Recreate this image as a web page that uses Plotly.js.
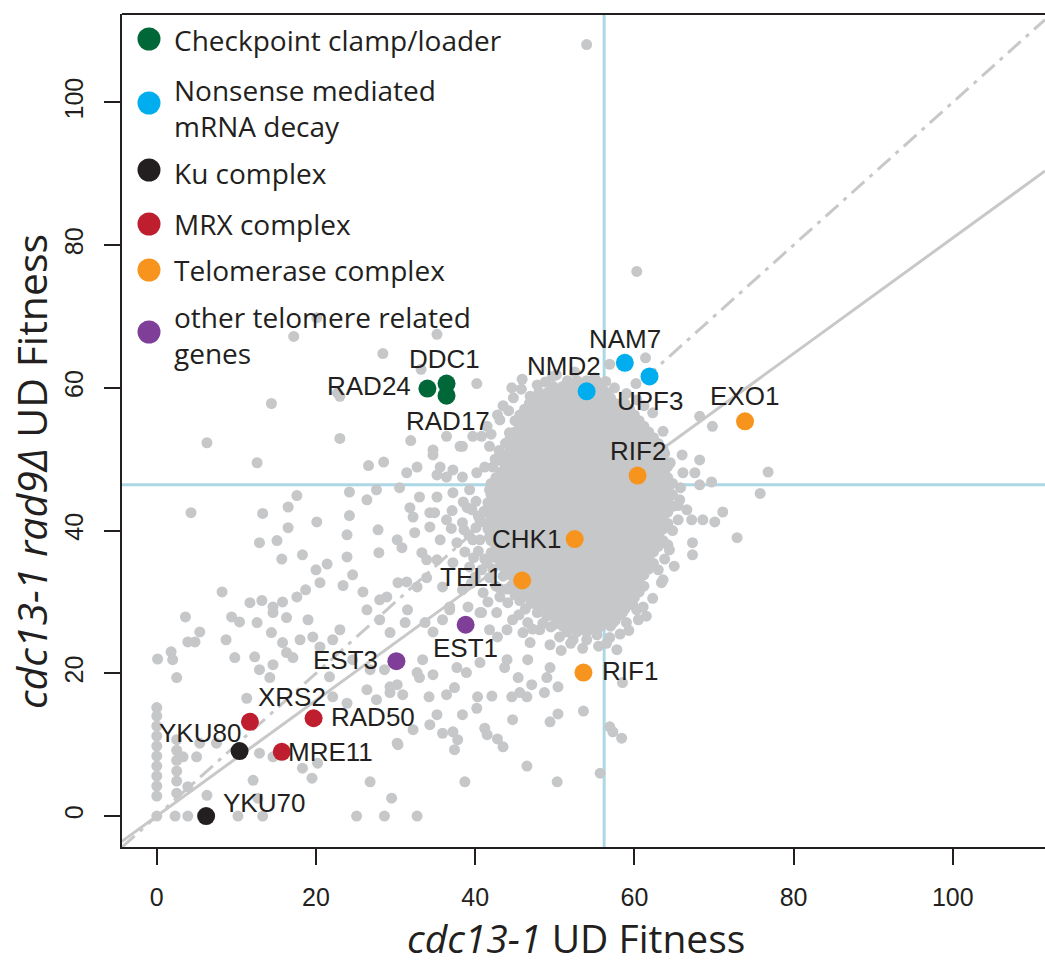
<!DOCTYPE html>
<html><head><meta charset="utf-8">
<script src="https://cdn.plot.ly/plotly-3.0.1.min.js"></script>
<style>html,body{margin:0;padding:0;background:#fff}#chart{width:1045px;height:965px}</style>
</head><body><div id="chart"></div>
<script>
// ---------------- DATA ----------------
const categories = ["Checkpoint clamp/loader", "Nonsense mediated<br>mRNA decay", "Ku complex", "MRX complex", "Telomerase complex", "other telomere related<br>genes"];
const genes      = ["RAD24","DDC1","RAD17","NMD2","NAM7","UPF3","YKU80","YKU70","XRS2","RAD50","MRE11","EXO1","RIF2","CHK1","TEL1","RIF1","EST1","EST3"];
const geneCat    = [0,0,0,1,1,1,2,2,3,3,3,4,4,4,4,4,5,5];
const geneX      = [34.0,36.4,36.4,54.0,58.8,61.9,10.4,6.2,11.7,19.7,15.7,73.9,60.4,52.5,45.9,53.6,38.8,30.1];
const geneY      = [59.9,60.6,58.9,59.5,63.5,61.6,9.1,0.0,13.2,13.7,9.0,55.3,47.7,38.8,33.0,20.1,26.8,21.7];

// all other genes (gray), scattered points
const grayPts = [
 [54.0,108.1],[60.3,76.3],[17.2,67.2],[20.1,69.8],[28.4,64.8],[35.2,67.5],[33.2,62.6],[40.2,60.6],[23.0,58.8],[45.9,61.2],
 [14.4,57.8],[22.7,59.3],[44.6,60.0],[46.9,58.8],[49.7,61.6],[61.4,64.2],[55.0,61.4],[56.9,63.3],[60.2,60.6],[62.3,56.5],[63.6,53.9],
 [6.3,52.3],[12.6,49.5],[23.0,52.9],[31.9,52.6],[26.6,49.1],[28.5,49.6],[31.4,48.1],[32.7,48.9],[4.3,42.5],[13.3,42.4],
 [17.6,44.9],[16.5,43.3],[20.1,41.2],[16.5,40.4],[24.2,42.1],[24.2,45.4],[26.4,44.3],[27.6,45.7],[30.5,46.0],[31.8,43.2],
 [32.2,41.9],[33.0,44.7],[34.7,50.6],[35.2,47.8],[34.9,42.5],[34.3,40.5],[27.8,40.1],
 [12.9,38.3],[15.1,38.6],[15.7,36.0],[18.3,36.6],[23.9,39.4],[27.9,36.9],[23.9,36.3],[21.4,35.3],[20.0,34.5],[20.5,32.7],
 [24.6,33.8],[23.4,32.3],[8.2,31.4],[11.7,29.9],[13.2,30.2],[14.6,29.3],[15.8,30.0],[17.6,30.7],[18.7,31.7],[25.9,31.4],
 [30.2,38.7],[30.8,37.6],[32.4,39.7],[33.3,36.9],[33.9,35.9],[30.3,32.7],[31.4,32.8],[32.7,32.1],[33.9,33.4],[28.0,30.3],[28.9,30.7],
 [3.6,27.9],[9.4,27.9],[10.4,27.2],[12.6,27.1],[14.6,28.5],[16.3,27.8],[19.0,27.5],[5.4,25.8],[3.9,24.4],[4.8,24.4],
 [8.7,24.7],[14.4,25.7],[15.8,24.3],[18.0,24.7],[19.6,25.1],[0.1,22.0],[1.8,23.0],[2.0,21.9],[9.8,22.2],[12.3,22.3],
 [14.6,21.2],[12.9,20.5],[16.3,22.9],[17.1,22.2],[2.5,19.4],[14.2,19.4],[20.5,23.7],[22.1,24.7],[23.0,26.1],[26.4,28.9],
 [28.0,27.5],[29.3,25.7],[21.7,19.5],[24.6,21.9],[26.8,20.5],[26.4,17.7],[27.6,16.3],[29.3,17.3],[22.1,16.7],[23.9,15.8],
 [28.6,20.5],[29.3,18.1],[11.3,16.5],
 [0,15.2],[0,14.0],[0,12.6],[0,11.2],[0,9.8],[0,8.4],[0,7.0],[0,5.6],[0,4.2],[0,2.8],[0,0],
 [2.5,10.7],[2.5,9.2],[2.5,7.8],[2.5,6.3],[2.5,4.9],[2.5,3.2],
 [5.4,10.2],[7.5,10.2],[3.3,8.3],[5.0,8.3],[12.9,8.8],[14.6,8.3],[12.1,5.0],[3.9,4.1],[6.3,2.9],[2.3,0],[3.9,0],[10.2,0],
 [13.3,0],[12.7,2.5],[19.5,5.3],[18.3,6.7],[20.2,7.4],[25.1,0],[28.6,0],[29.5,2.5],[26.8,4.8],[30.2,10.2],[32.7,0],
 [38.7,4.8],[50.3,4.8],[55.7,6.0],[46.5,7.0],[53.6,14.7],[50.4,14.3],[49.4,13.2],[44.7,13.5],[56.9,12.5],[57.3,11.8],
 [58.4,10.9],[42.1,16.8],[40.3,16.7],[40.2,15.1],[38.4,14.2],[37.2,11.8],[37.8,10.7],[37.4,9.3],[35.9,11.6],[35.2,14.2],
 [34.3,12.8],[32.2,12.1],[30.3,10.0],[42.8,10.8],[43.5,9.7],[41.2,12.3],[41.5,11.4],[34.2,16.7],[36.4,17.0],[37.4,18.0],
 [30.9,17.0],[30.2,18.4],[33.0,19.4],[32.7,20.1],[34.7,19.8],[37.7,20.8],[38.9,20.1],[40.6,21.5],[33.4,21.9],[44.6,16.7],
 [45.6,17.3],[46.5,16.7],[48.7,17.3],[47.1,18.4],[50.4,18.1],[49.0,19.4],[49.4,20.8],[45.4,19.4],[43.7,20.8],[44.0,21.9],
 [46.6,21.9],[58.5,18.7],[31.5,28.9],[31.2,27.1],[33.7,27.1],[34.7,25.8],[35.9,27.5],[36.8,28.9],[39.1,29.3],[40.8,28.5],
 [41.8,26.1],[42.8,25.1],[44.0,26.1],[44.7,27.5],[46.0,25.7],[46.9,24.3],[48.1,26.1],[49.4,24.0],[50.6,25.1],[52.3,24.7],
 [54.0,24.7],[55.3,25.4],[56.9,25.0],[57.8,23.3],[59.8,31.7],[60.3,28.9],[59.0,27.1],[57.3,27.1],
 [68.2,56.0],[69.8,54.6],[66.0,50.6],[68.2,49.9],[66.1,48.1],[67.6,48.1],[68.2,46.4],[69.7,46.8],[76.8,48.2],[75.8,45.2],
 [65.7,44.3],[66.6,42.9],[71.1,42.6],[67.2,41.5],[68.6,41.5],[70.1,41.2],[65.5,41.5],[72.9,39.0],[67.3,38.3],[67.3,36.6],
 [64.4,37.3],[63.4,32.7],[63.8,48.2],[63.6,33.1],[61.1,29.3],[62.3,30.5],[65.0,35.0],
 [34.7,51.3],[36.4,53.2],[38.4,51.8],[40.8,53.2],[44.0,52.3],[35.6,48.9],[37.2,48.5],[38.4,47.5],[40.2,48.1],[42.2,48.9],
 [35.2,44.7],[37.2,45.3],[39.3,45.7],[41.8,45.7],[43.5,45.7],[34.3,42.5],[36.4,41.5],[38.4,41.1],[40.6,41.5],[42.7,41.9],
 [44.7,41.5],[35.6,38.7],[37.7,38.3],[39.7,38.7],[41.8,39.1],[44.0,38.3],[35.2,35.9],[37.2,35.5],[39.3,34.9],[41.5,35.5],
 [43.5,34.9],[35.9,32.1],[38.4,31.7],[41.0,31.3],[43.1,30.7],[36.8,29.3],[40.6,28.5],[42.7,28.5],
 [38.1,51.8],[41.5,54.6],[43.1,55.5],[44.3,53.7],[46.5,54.1],[39.7,53.2],[36.4,47.5],[41.2,48.9],[43.1,46.7],[45.2,47.5],
 [38.5,44.0],[40.1,44.1],[41.6,43.9],[43.0,44.2],[37.1,42.8],[39.6,42.9],[41.1,42.7],[42.6,43.0],[37.0,40.3],[38.6,40.1],
 [40.1,40.4],[41.6,40.2],[43.1,40.4],[38.7,37.0],[40.4,37.1],[42.0,36.9],[43.8,37.2],[40.0,33.5],[41.8,33.4],[43.5,33.6],
 [45.2,33.4],[39.5,32.6],[44.6,32.3],[41.6,30.0],[44.1,29.9],[45.6,30.2],[47.0,29.8],[46.6,27.1],[48.5,27.0],[50.0,26.9],
 [43.5,57.5],[44.8,58.6],[42.8,56.2],[44.2,56.8],[45.8,59.8],[47.8,60.4],[42.0,53.5],[43.0,51.2],[42.5,50.0],[41.8,51.8],
 [50.2,61.8],[52.5,62.2],[48.8,60.8],[57.5,60.0],[59.0,59.2],[60.3,58.3],[61.2,57.5],[56.4,60.9],
 [65.8,46.0],[65.5,43.5],[64.8,40.0],[64.2,38.0],[63.8,36.0],[63.0,34.5],[62.8,52.0],[63.8,50.8],[64.5,49.5],
 [45.0,31.0],[44.0,31.8],[46.3,29.0],[47.8,28.5],[49.0,28.0],[45.5,28.2],[47.2,26.2],[49.5,26.5],[51.5,25.8],[52.0,24.2],
 [50.8,23.2],[53.5,23.5],[55.5,23.8],[56.5,24.2],[58.2,25.5],[59.3,26.0],[60.5,27.5],[61.5,28.0],[58.5,28.5],[59.8,29.6],
 [39.0,43.2],[40.4,42.0],[39.2,39.4],[40.6,38.7],[39.8,36.2],[41.2,36.0],[42.2,34.6],[40.8,34.5],[42.6,32.2],[43.2,31.8]
];

// the dense core of the cloud: one row per fitness level
const coreY = [61.0,60.2,59.4,58.6,57.8,57.0,56.2,55.4,54.6,53.8,53.0,52.2,51.4,50.6,49.8,49.0,48.2,47.4,46.6,45.8,45.0,44.2,43.4,42.6,41.8,41.0,40.2,39.4,38.6,37.8,37.0,36.2,35.4,34.6,33.8,33.0,32.2,31.4,30.6,29.8,29.0,28.2,27.4,26.6,25.8];
const coreX = [
 [51.6,52.8,54.0,55.2],
 [49.8,51.0,52.2,53.4,54.6,55.8],
 [48.0,49.2,50.4,51.6,52.8,54.0,55.2,56.4],
 [47.4,48.6,49.8,51.0,52.2,53.4,54.6,55.8,57.0],
 [46.8,48.0,49.2,50.4,51.6,52.8,54.0,55.2,56.4,57.6,58.8],
 [46.2,47.4,48.6,49.8,51.0,52.2,53.4,54.6,55.8,57.0,58.2,59.4],
 [45.6,46.8,48.0,49.2,50.4,51.6,52.8,54.0,55.2,56.4,57.6,58.8,60.0],
 [45.0,46.2,47.4,48.6,49.8,51.0,52.2,53.4,54.6,55.8,57.0,58.2,59.4,60.6],
 [45.6,46.8,48.0,49.2,50.4,51.6,52.8,54.0,55.2,56.4,57.6,58.8,60.0,61.2],
 [45.0,46.2,47.4,48.6,49.8,51.0,52.2,53.4,54.6,55.8,57.0,58.2,59.4,60.6,61.8],
 [44.4,45.6,46.8,48.0,49.2,50.4,51.6,52.8,54.0,55.2,56.4,57.6,58.8,60.0,61.2,62.4],
 [43.8,45.0,46.2,47.4,48.6,49.8,51.0,52.2,53.4,54.6,55.8,57.0,58.2,59.4,60.6,61.8,63.0],
 [44.4,45.6,46.8,48.0,49.2,50.4,51.6,52.8,54.0,55.2,56.4,57.6,58.8,60.0,61.2,62.4,63.6],
 [43.8,45.0,46.2,47.4,48.6,49.8,51.0,52.2,53.4,54.6,55.8,57.0,58.2,59.4,60.6,61.8,63.0],
 [43.2,44.4,45.6,46.8,48.0,49.2,50.4,51.6,52.8,54.0,55.2,56.4,57.6,58.8,60.0,61.2,62.4,63.6],
 [43.8,45.0,46.2,47.4,48.6,49.8,51.0,52.2,53.4,54.6,55.8,57.0,58.2,59.4,60.6,61.8,63.0,64.2],
 [43.2,44.4,45.6,46.8,48.0,49.2,50.4,51.6,52.8,54.0,55.2,56.4,57.6,58.8,60.0,61.2,62.4,63.6],
 [42.6,43.8,45.0,46.2,47.4,48.6,49.8,51.0,52.2,53.4,54.6,55.8,57.0,58.2,59.4,60.6,61.8,63.0,64.2],
 [42.0,43.2,44.4,45.6,46.8,48.0,49.2,50.4,51.6,52.8,54.0,55.2,56.4,57.6,58.8,60.0,61.2,62.4,63.6,64.8],
 [42.6,43.8,45.0,46.2,47.4,48.6,49.8,51.0,52.2,53.4,54.6,55.8,57.0,58.2,59.4,60.6,61.8,63.0,64.2],
 [42.0,43.2,44.4,45.6,46.8,48.0,49.2,50.4,51.6,52.8,54.0,55.2,56.4,57.6,58.8,60.0,61.2,62.4,63.6,64.8],
 [42.6,43.8,45.0,46.2,47.4,48.6,49.8,51.0,52.2,53.4,54.6,55.8,57.0,58.2,59.4,60.6,61.8,63.0,64.2],
 [42.0,43.2,44.4,45.6,46.8,48.0,49.2,50.4,51.6,52.8,54.0,55.2,56.4,57.6,58.8,60.0,61.2,62.4,63.6,64.8],
 [41.4,42.6,43.8,45.0,46.2,47.4,48.6,49.8,51.0,52.2,53.4,54.6,55.8,57.0,58.2,59.4,60.6,61.8,63.0,64.2],
 [42.0,43.2,44.4,45.6,46.8,48.0,49.2,50.4,51.6,52.8,54.0,55.2,56.4,57.6,58.8,60.0,61.2,62.4,63.6],
 [41.4,42.6,43.8,45.0,46.2,47.4,48.6,49.8,51.0,52.2,53.4,54.6,55.8,57.0,58.2,59.4,60.6,61.8,63.0,64.2],
 [42.0,43.2,44.4,45.6,46.8,48.0,49.2,50.4,51.6,52.8,54.0,55.2,56.4,57.6,58.8,60.0,61.2,62.4,63.6],
 [42.6,43.8,45.0,46.2,47.4,48.6,49.8,51.0,52.2,53.4,54.6,55.8,57.0,58.2,59.4,60.6,61.8,63.0],
 [42.0,43.2,44.4,45.6,46.8,48.0,49.2,50.4,51.6,52.8,54.0,55.2,56.4,57.6,58.8,60.0,61.2,62.4,63.6],
 [42.6,43.8,45.0,46.2,47.4,48.6,49.8,51.0,52.2,53.4,54.6,55.8,57.0,58.2,59.4,60.6,61.8,63.0],
 [43.2,44.4,45.6,46.8,48.0,49.2,50.4,51.6,52.8,54.0,55.2,56.4,57.6,58.8,60.0,61.2,62.4],
 [42.6,43.8,45.0,46.2,47.4,48.6,49.8,51.0,52.2,53.4,54.6,55.8,57.0,58.2,59.4,60.6,61.8],
 [43.2,44.4,45.6,46.8,48.0,49.2,50.4,51.6,52.8,54.0,55.2,56.4,57.6,58.8,60.0,61.2,62.4],
 [43.8,45.0,46.2,47.4,48.6,49.8,51.0,52.2,53.4,54.6,55.8,57.0,58.2,59.4,60.6,61.8],
 [44.4,45.6,46.8,48.0,49.2,50.4,51.6,52.8,54.0,55.2,56.4,57.6,58.8,60.0,61.2],
 [45.0,46.2,47.4,48.6,49.8,51.0,52.2,53.4,54.6,55.8,57.0,58.2,59.4,60.6],
 [45.6,46.8,48.0,49.2,50.4,51.6,52.8,54.0,55.2,56.4,57.6,58.8,60.0,61.2],
 [46.2,47.4,48.6,49.8,51.0,52.2,53.4,54.6,55.8,57.0,58.2,59.4,60.6],
 [46.8,48.0,49.2,50.4,51.6,52.8,54.0,55.2,56.4,57.6,58.8,60.0],
 [47.4,48.6,49.8,51.0,52.2,53.4,54.6,55.8,57.0,58.2,59.4],
 [48.0,49.2,50.4,51.6,52.8,54.0,55.2,56.4,57.6,58.8],
 [49.8,51.0,52.2,53.4,54.6,55.8,57.0,58.2],
 [50.4,51.6,52.8,54.0,55.2,56.4,57.6],
 [51.0,52.2,53.4,54.6,55.8,57.0],
 [52.8,54.0,55.2]
];

const tickVals = [0,20,40,60,80,100];
const thresholdX = 56.2;   // vertical reference line
const thresholdY = 46.4;   // horizontal reference line
const fitSlope = 0.81;     // solid regression line through origin

// ---------------- STYLE ----------------
const catColors = ["#006838","#00aeef","#231f20","#be1e2d","#f7941d","#7f3f98"];
const gray = "#c6c7c9";
const ink = "#231f20";
const labelStyle = {
 RAD24:{a:"right",dx:-14,dy:3}, DDC1:{a:"center",dx:-2,dy:25}, RAD17:{a:"center",dx:1,dy:-25},
 NMD2:{a:"center",dx:-23,dy:25}, NAM7:{a:"center",dx:0,dy:24}, UPF3:{a:"center",dx:0,dy:-25},
 YKU80:{a:"center",dx:-40,dy:18}, YKU70:{a:"left",dx:15,dy:13},
 XRS2:{a:"center",dx:42,dy:25}, RAD50:{a:"left",dx:15,dy:1}, MRE11:{a:"left",dx:4,dy:0},
 EXO1:{a:"center",dx:-1,dy:25}, RIF2:{a:"center",dx:0,dy:25}, CHK1:{a:"right",dx:-12,dy:0},
 TEL1:{a:"right",dx:-18,dy:4}, RIF1:{a:"left",dx:17,dy:2},
 EST1:{a:"center",dx:0,dy:-23}, EST3:{a:"right",dx:-16,dy:1}
};
const W = 1045, H = 965, M = {l:122, r:0, t:14, b:118};
const PW = W - M.l - M.r, PH = H - M.t - M.b;
const xRange = [-4.37, -4.37 + PW/7.96];
const yRange = [-4.34, -4.34 + PH/7.137];
const px2x = p => (p - M.l) / PW;
const px2y = p => (H - M.b - p) / PH;
const legendRows = [{m:39,t:40},{m:103,t:108},{m:170,t:173},{m:224,t:224},{m:270,t:270},{m:332,t:335}];

// ---------------- BUILD ----------------
const gx = [], gy = [];
grayPts.forEach(p => { gx.push(p[0]); gy.push(p[1]); });
coreY.forEach((y, i) => coreX[i].forEach(x => { gx.push(x); gy.push(y); }));

const traces = [{
  type:"scatter", mode:"markers", x:gx, y:gy, hoverinfo:"skip",
  marker:{size:11, color:gray, line:{width:0}}
}];
categories.forEach((c, ci) => {
  const xs = [], ys = [], names = [];
  genes.forEach((g, gi) => { if (geneCat[gi] === ci) { xs.push(geneX[gi]); ys.push(geneY[gi]); names.push(g); } });
  traces.push({type:"scatter", mode:"markers", x:xs, y:ys, text:names, name:c,
    marker:{size:18, color:catColors[ci], line:{width:0}}});
});

const annotations = genes.map((g, gi) => {
  const s = labelStyle[g];
  return {x:geneX[gi], y:geneY[gi], xref:"x", yref:"y", text:g, showarrow:false,
    xanchor:s.a, yanchor:"middle", xshift:s.dx, yshift:s.dy,
    font:{family:"Liberation Sans, Arial, sans-serif", size:26, color:ink}};
});
const shapes = [
  {type:"line", xref:"x", yref:"paper", x0:thresholdX, x1:thresholdX, y0:0, y1:1, layer:"below", line:{color:"#acd8e6", width:3}},
  {type:"line", xref:"paper", yref:"y", x0:0, x1:1, y0:thresholdY, y1:thresholdY, layer:"below", line:{color:"#acd8e6", width:3}},
  {type:"line", xref:"x", yref:"y", x0:xRange[0], x1:xRange[1], y0:xRange[0], y1:xRange[1], layer:"below", line:{color:"#c8c8c8", width:3, dash:"17px,7px,4px,7px"}},
  {type:"line", xref:"x", yref:"y", x0:xRange[0], x1:xRange[1], y0:xRange[0]*fitSlope, y1:xRange[1]*fitSlope, layer:"below", line:{color:"#c8c8c8", width:3}},
  {type:"line", xref:"paper", yref:"paper", x0:0, x1:1, y0:1, y1:1, line:{color:ink, width:2}}
];
categories.forEach((c, ci) => {
  const r = legendRows[ci];
  const cx = px2x(149), cy = px2y(r.m), rx = 11.5/PW, ry = 11.5/PH;
  shapes.push({type:"circle", xref:"paper", yref:"paper", x0:cx-rx, x1:cx+rx, y0:cy-ry, y1:cy+ry,
    fillcolor:catColors[ci], line:{width:0}});
  annotations.push({xref:"paper", yref:"paper", x:px2x(172), y:px2y(r.t), xanchor:"left", yanchor:"middle",
    align:"left", showarrow:false, text:c, font:{family:"Open Sans, sans-serif", size:28, color:ink}});
});
annotations.push({xref:"paper", yref:"paper", x:px2x(576), y:px2y(937), xanchor:"center", yanchor:"middle",
  showarrow:false, text:"<i>cdc13-1</i> UD Fitness", font:{family:"Open Sans, sans-serif", size:39, color:ink}});
annotations.push({xref:"paper", yref:"paper", x:px2x(31), y:px2y(472), xanchor:"center", yanchor:"middle",
  textangle:-90, showarrow:false, text:"<i>cdc13-1 rad9\u0394</i> UD Fitness", font:{family:"Open Sans, sans-serif", size:41, color:ink}});

const axisCommon = {showgrid:false, zeroline:false, showline:true, linecolor:ink, linewidth:2,
  ticks:"outside", ticklen:16, tickwidth:2, tickcolor:ink, tickvals:tickVals, ticktext:tickVals.map(String),
  tickfont:{family:"Liberation Sans, Arial, sans-serif", size:25, color:ink}, fixedrange:true};

const layout = {
  width:W, height:H, margin:M, paper_bgcolor:"#fff", plot_bgcolor:"#fff", showlegend:false,
  xaxis:Object.assign({}, axisCommon, {range:xRange, ticklabelstandoff:11}),
  yaxis:Object.assign({}, axisCommon, {range:yRange, tickangle:-90, ticklabelstandoff:11}),
  shapes:shapes, annotations:annotations
};
Plotly.newPlot("chart", traces, layout, {displayModeBar:false, staticPlot:true});
</script>
</body></html>
